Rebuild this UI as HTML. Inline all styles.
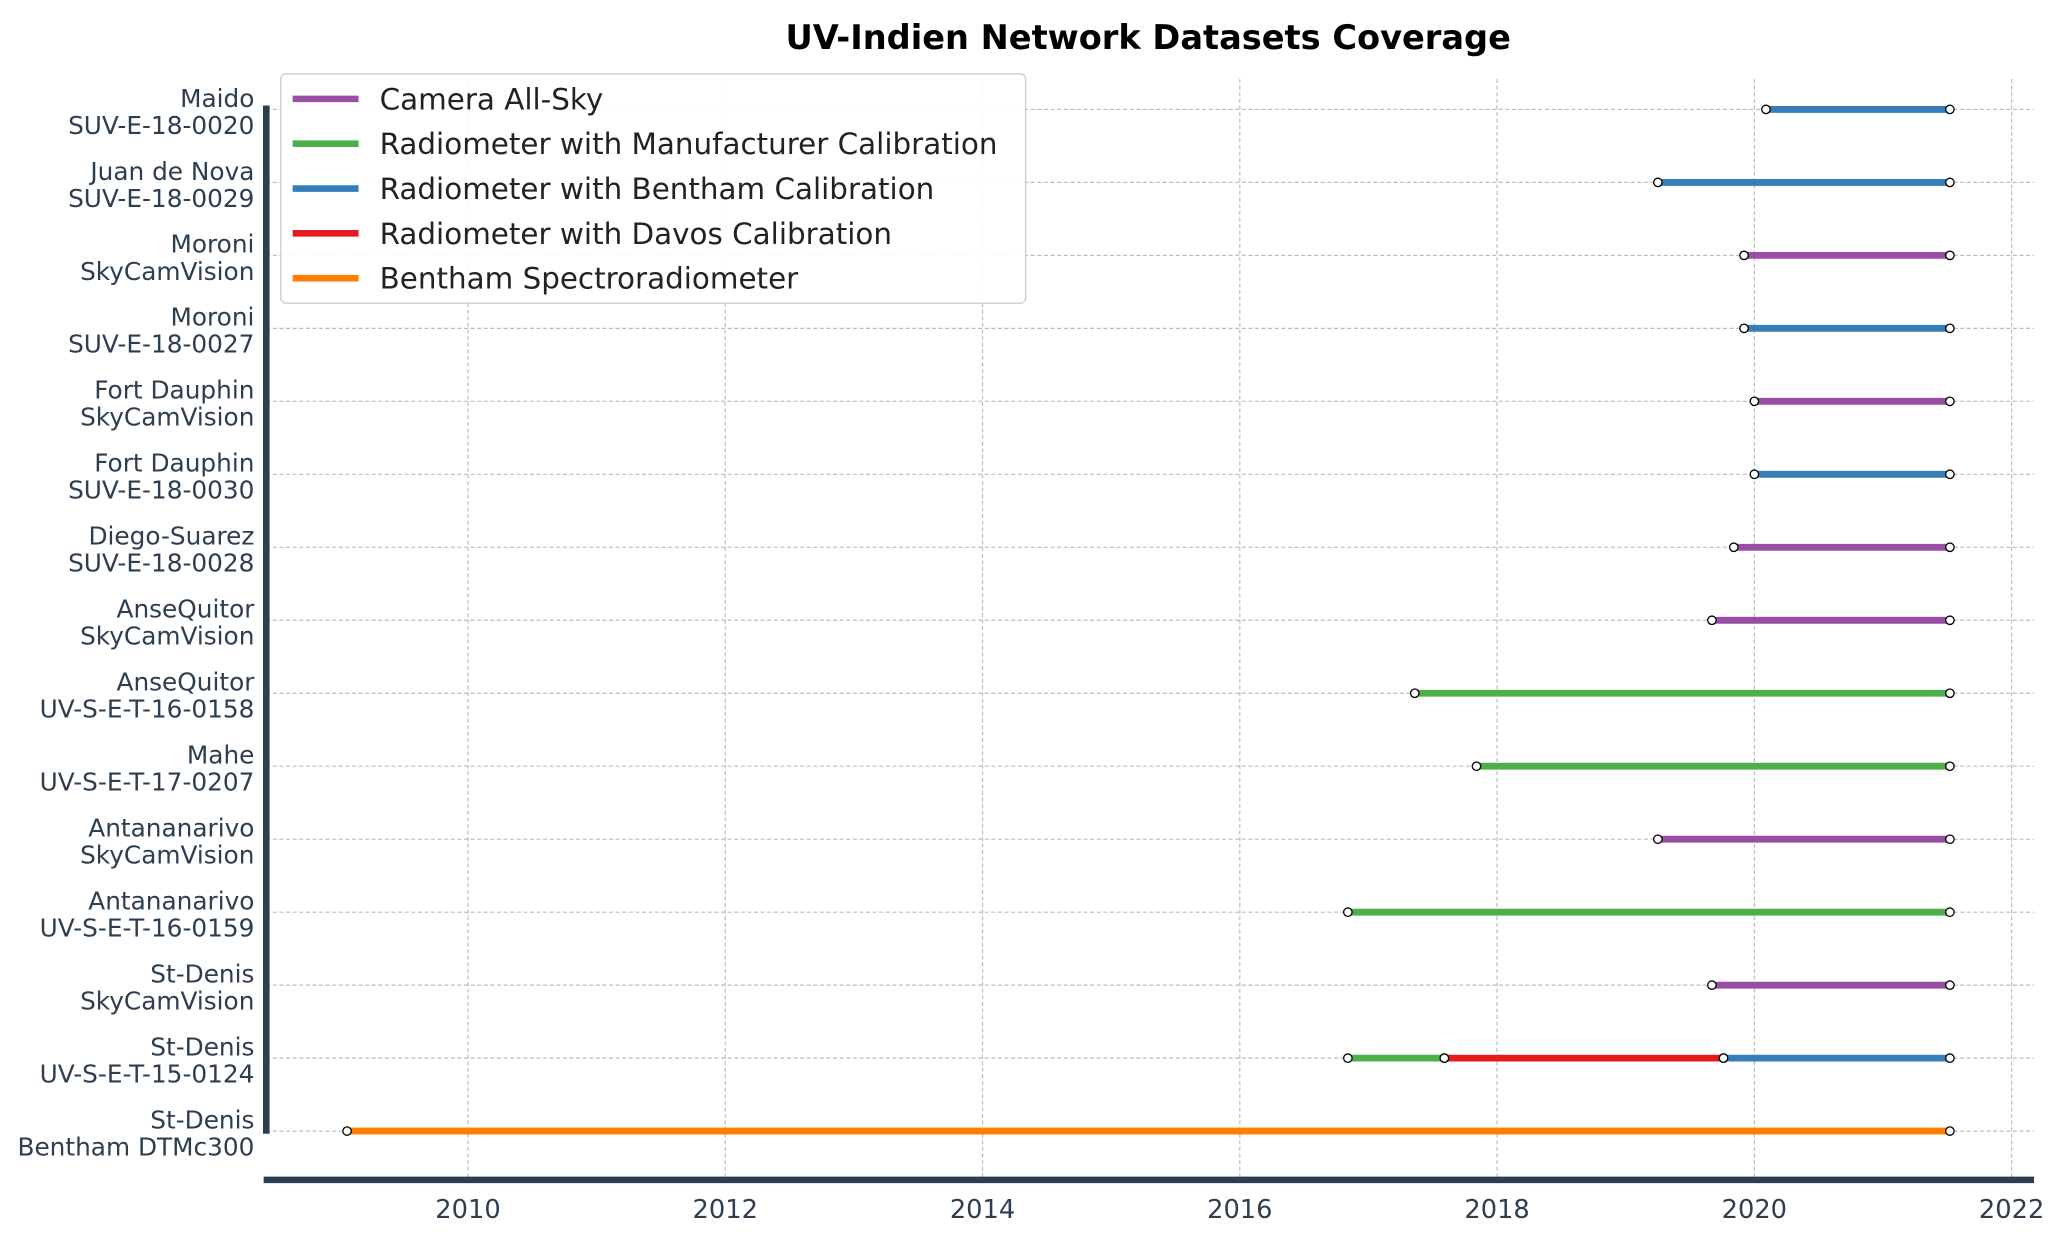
<!DOCTYPE html>
<html><head><meta charset="utf-8"><style>
html,body{margin:0;padding:0;background:#fff;}
svg{display:block;font-family:"DejaVu Sans","Liberation Sans",sans-serif;}
</style></head><body>
<svg id="chart" width="2067" height="1240" viewBox="0 0 1568 940.6" preserveAspectRatio="none" xmlns="http://www.w3.org/2000/svg">
<text x="871" y="37" text-anchor="middle" font-size="25.5" font-weight="bold" fill="#000">UV-Indien Network Datasets Coverage</text>
<g id="grid"></g><g id="marks"></g><g id="axes"></g>
</svg>
<script>
const labels=[["Maido","SUV-E-18-0020"],["Juan de Nova","SUV-E-18-0029"],["Moroni","SkyCamVision"],["Moroni","SUV-E-18-0027"],["Fort Dauphin","SkyCamVision"],["Fort Dauphin","SUV-E-18-0030"],["Diego-Suarez","SUV-E-18-0028"],["AnseQuitor","SkyCamVision"],["AnseQuitor","UV-S-E-T-16-0158"],["Mahe","UV-S-E-T-17-0207"],["Antananarivo","SkyCamVision"],["Antananarivo","UV-S-E-T-16-0159"],["St-Denis","SkyCamVision"],["St-Denis","UV-S-E-T-15-0124"],["St-Denis","Bentham DTMc300"]];
const segRow=[0,1,2,3,4,5,6,7,8,9,10,11,12,13,13,13,14];
const segStart=[2020.09,2019.25,2019.92,2019.92,2020.0,2020.0,2019.84,2019.67,2017.36,2017.84,2019.25,2016.84,2019.67,2016.84,2017.59,2019.76,2009.06];
const segEnd=[2021.52,2021.52,2021.52,2021.52,2021.52,2021.52,2021.52,2021.52,2021.52,2021.52,2021.52,2021.52,2021.52,2017.59,2019.76,2021.52,2021.52];
const segType=[2,2,0,2,0,2,0,0,1,1,0,1,0,1,3,2,4];
const typeNames=["Camera All-Sky","Radiometer with Manufacturer Calibration","Radiometer with Bentham Calibration","Radiometer with Davos Calibration","Bentham Spectroradiometer"];
const typeColors=["#984ea3","#4daf4a","#377eb8","#e41a1c","#ff7f00"];
const xTicks=[2010,2012,2014,2016,2018,2020,2022];
const NS="http://www.w3.org/2000/svg";
const X=v=>355+(v-2010)*(1526-355)/12;
const Y=i=>83+i*(858-83)/14;
function mk(p,t,a){const e=document.createElementNS(NS,t);for(const k in a)e.setAttribute(k,a[k]);p.appendChild(e);return e;}
const grid=document.getElementById('grid'),marks=document.getElementById('marks'),axes=document.getElementById('axes');
xTicks.forEach(t=>{const l=mk(grid,'line',{x1:X(t),x2:X(t),y1:60,y2:895,stroke:'#bbb','stroke-width':0.9,'stroke-dasharray':'3,2'});


const tx=mk(axes,'text',{x:X(t),y:924,'text-anchor':'middle','font-size':19.5,fill:'#2c3e50'});tx.textContent=t;

});
labels.forEach((lb,i)=>{const l=mk(grid,'line',{x1:202,x2:1543,y1:Y(i),y2:Y(i),stroke:'#bbb','stroke-width':0.9,'stroke-dasharray':'3,2'});


const tx=mk(axes,'text',{x:193,y:Y(i)-2,'text-anchor':'end','font-size':18.8,fill:'#2c3e50'});


mk(tx,'tspan',{x:193,dy:0}).textContent=lb[0];mk(tx,'tspan',{x:193,dy:20.5}).textContent=lb[1];});
segRow.forEach((r,i)=>{const l=mk(marks,'line',{x1:X(segStart[i]),x2:X(segEnd[i]),y1:Y(r),y2:Y(r),stroke:typeColors[segType[i]],'stroke-width':5.2});

});
segRow.forEach((r,i)=>{[segStart[i],segEnd[i]].forEach(v=>{const c=mk(marks,'circle',{cx:X(v),cy:Y(r),r:3.2,fill:'#fff',stroke:'#000','stroke-width':1});

});});
const sp=mk(axes,'line',{x1:202,x2:202,y1:80,y2:860,stroke:'#2c3e50','stroke-width':5});


const bx=mk(axes,'line',{x1:200,x2:1543,y1:895,y2:895,stroke:'#2c3e50','stroke-width':5});


const lg=mk(axes,'g',{});


mk(lg,'rect',{x:213,y:56,width:565,height:174,rx:4,fill:'#fff','fill-opacity':0.9,stroke:'#ccc','stroke-width':1});
typeNames.forEach((n,i)=>{const y=75+i*34;
mk(lg,'line',{x1:222,x2:272,y1:y,y2:y,stroke:typeColors[i],'stroke-width':5});
const tx=mk(lg,'text',{x:288,y:y+8,'font-size':22.3,fill:'#222'});tx.textContent=n;

});
</script>
</body></html>
